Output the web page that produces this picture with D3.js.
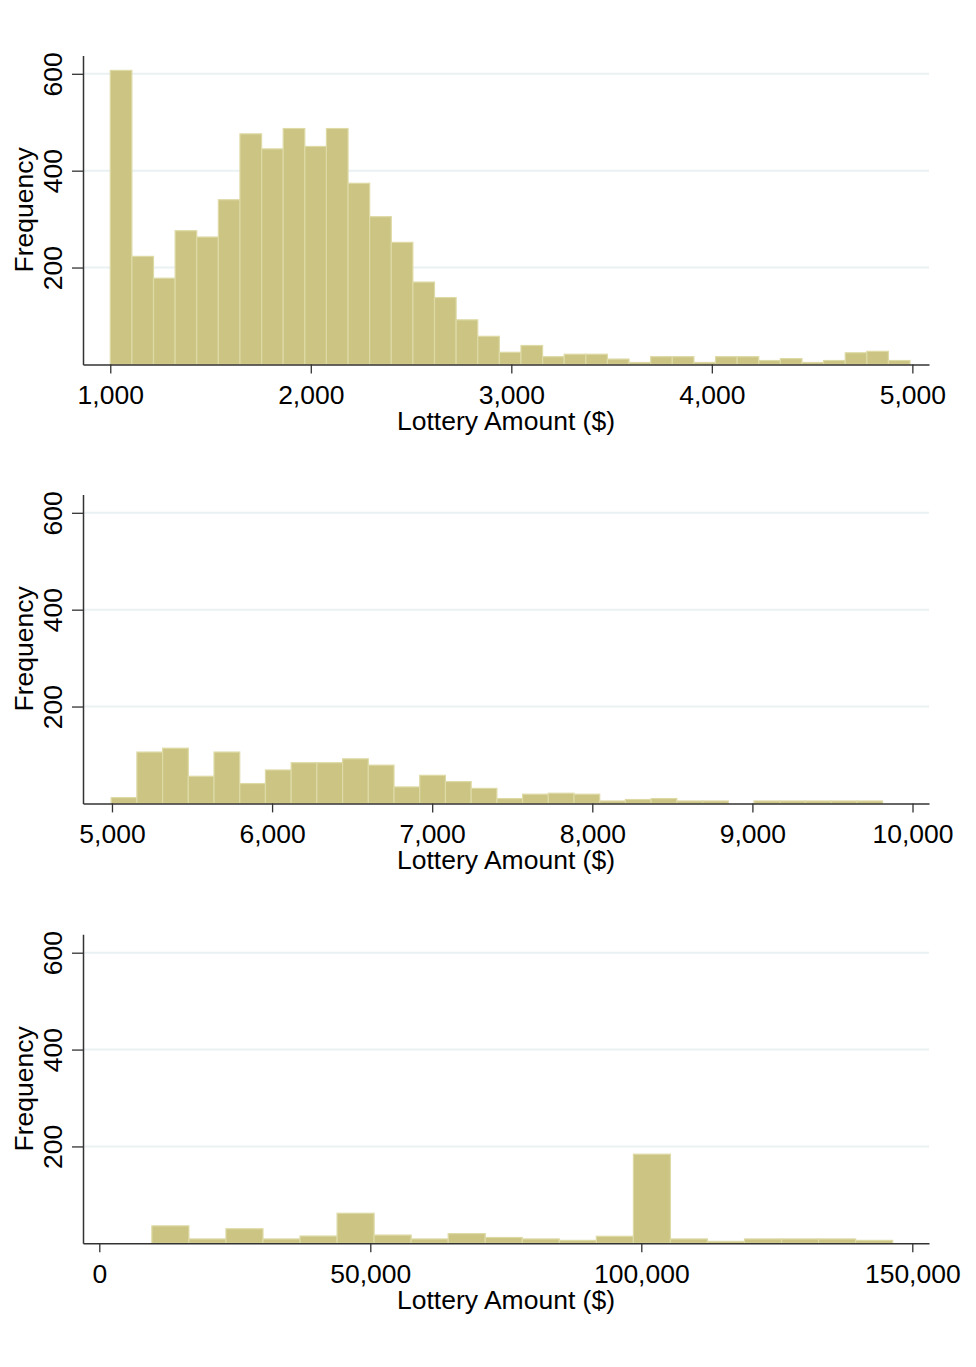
<!DOCTYPE html>
<html>
<head>
<meta charset="utf-8">
<script src="https://cdn.jsdelivr.net/npm/d3@7"></script>
<style>
  html, body { margin: 0; padding: 0; background: #fff; }
  svg { display: block; }
  text { font-family: "Liberation Sans", Arial, sans-serif; fill: #000; }
</style>
</head>
<body>
<svg id="chart" width="976" height="1367"></svg>
<script>
// ---------- DATA ----------
// Panel 1: $1,000 - $5,000, 37 bins
const p1Start = 1000;
const p1Width = 107.8;
const p1Counts = [607, 223, 178, 276, 263, 340, 476, 445, 487, 450, 487, 374, 305, 252, 170, 138, 92, 58,
                  25, 39, 16, 21, 21, 11, 4, 16, 16, 4, 16, 16, 8, 12, 4, 8, 24, 27, 8];
const p1Ticks = [1000, 2000, 3000, 4000, 5000];

// Panel 2: $5,000 - $10,000, 30 bins
const p2Start = 4995;
const p2Width = 160.6;
const p2Counts = [12, 106, 114, 56, 106, 41, 69, 84, 84, 92, 79, 34, 58, 45, 31,
                  10, 19, 21, 19, 5, 8, 10, 5, 5, 0, 5, 5, 5, 5, 5];
const p2Ticks = [5000, 6000, 7000, 8000, 9000, 10000];

// Panel 3: above $10,000, 20 bins
const p3Start = 9700;
const p3Width = 6834;
const p3Counts = [36, 9, 30, 9, 15, 62, 17, 9, 20, 12, 9, 6, 14.5, 184, 9, 4, 9, 9, 9, 6];
const p3Ticks = [0, 50000, 100000, 150000];

const yTicks = [200, 400, 600];
const xTitle = "Lottery Amount ($)";
const yTitle = "Frequency";

// ---------- LAYOUT ----------
const svg = d3.select("#chart");
const left = 83, right = 929;
const fontSize = 26.5;
const fillColor = "#cbc483";
const edgeColor = "#dedaa6";
const gridColor = "#eaf1f3";
const axisColor = "#333";

const panels = [
  { start: p1Start, width: p1Width, counts: p1Counts, ticks: p1Ticks, domain: [864, 5083], base: 364.4 },
  { start: p2Start, width: p2Width, counts: p2Counts, ticks: p2Ticks, domain: [4819, 10103], base: 803.4 },
  { start: p3Start, width: p3Width, counts: p3Counts, ticks: p3Ticks, domain: [-3007, 153081], base: 1243.3 }
];

panels.forEach(p => {
  const x = d3.scaleLinear().domain(p.domain).range([left, right]);
  const y = d3.scaleLinear().domain([0, 638]).range([p.base, p.base - 309]);
  const g = svg.append("g");

  // gridlines
  g.selectAll("line.grid").data(yTicks).enter().append("line")
    .attr("class", "grid")
    .attr("x1", left).attr("x2", right)
    .attr("y1", d => y(d)).attr("y2", d => y(d))
    .attr("stroke", gridColor).attr("stroke-width", 2);

  // bars
  const bins = p.counts.map((c, i) => ({ x0: p.start + i * p.width, x1: p.start + (i + 1) * p.width, c }));
  g.selectAll("rect.bar").data(bins.filter(b => b.c > 0)).enter().append("rect")
    .attr("class", "bar")
    .attr("x", d => x(d.x0))
    .attr("width", d => x(d.x1) - x(d.x0))
    .attr("y", d => y(d.c))
    .attr("height", d => y(0) - y(d.c))
    .attr("fill", fillColor)
    .attr("stroke", edgeColor)
    .attr("stroke-width", 1.2);

  // x axis
  const xAxis = d3.axisBottom(x)
    .tickValues(p.ticks)
    .tickSize(9)
    .tickSizeOuter(0)
    .tickFormat(d3.format(","));
  const gx = g.append("g").attr("transform", `translate(0,${p.base})`).call(xAxis);
  gx.select(".domain").attr("stroke", axisColor).attr("stroke-width", 1.5);
  gx.selectAll(".tick line").attr("stroke", axisColor).attr("stroke-width", 1.3);
  gx.selectAll(".tick text")
    .attr("y", 40).attr("dy", 0)
    .style("font-size", fontSize + "px")
    .style("font-family", '"Liberation Sans", Arial, sans-serif')
    .attr("fill", "#000");

  // y axis
  const yAxis = d3.axisLeft(y)
    .tickValues(yTicks)
    .tickSize(11)
    .tickSizeOuter(0)
    .tickFormat(d3.format("d"));
  const gy = g.append("g").attr("transform", `translate(${left},0)`).call(yAxis);
  gy.select(".domain").attr("stroke", axisColor).attr("stroke-width", 1.5);
  gy.selectAll(".tick line").attr("stroke", axisColor).attr("stroke-width", 1.3);
  gy.selectAll(".tick text")
    .attr("x", null).attr("dy", null)
    .attr("text-anchor", "middle")
    .attr("transform", `translate(${61.5 - left},0) rotate(-90)`)
    .style("font-size", fontSize + "px")
    .style("font-family", '"Liberation Sans", Arial, sans-serif')
    .attr("fill", "#000");

  // titles
  g.append("text")
    .attr("x", (left + right) / 2)
    .attr("y", p.base + 65.5)
    .attr("text-anchor", "middle")
    .style("font-size", fontSize + "px")
    .text(xTitle);

  g.append("text")
    .attr("transform", `translate(32.5,${(y.range()[0] + y.range()[1]) / 2}) rotate(-90)`)
    .attr("text-anchor", "middle")
    .style("font-size", fontSize + "px")
    .text(yTitle);
});
</script>
</body>
</html>
